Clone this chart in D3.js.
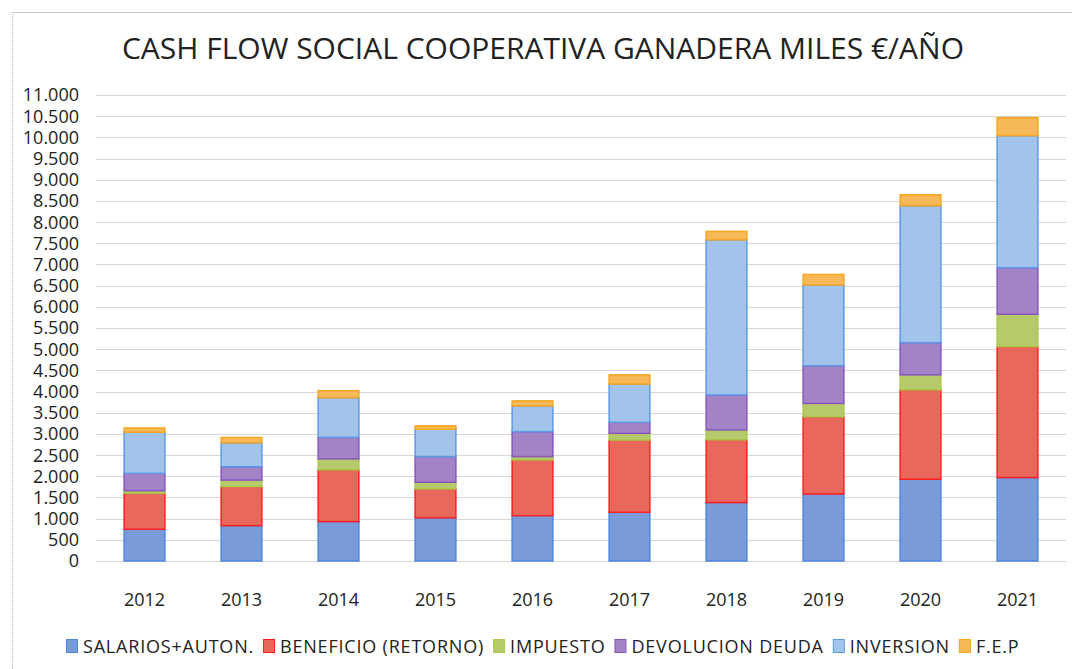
<!DOCTYPE html>
<html>
  <head>
	<meta charset="utf-8">
    <title>Cash flow social</title>
    <script src="https://cdn.jsdelivr.net/npm/d3@7"></script>
  	<style>
		body{ margin:0; background:#fff; }
		svg{ display:block; }
		text{ font-family:"Open Sans", "Noto Sans", sans-serif; fill:#222; }
		.grid line{ stroke:#d6d6d6; stroke-width:1; }
		.grid .domain{ display:none; }
	</style>
  </head>
  <body>
    <div id="diagram"></div>
    <script>
		var years = ["2012","2013","2014","2015","2016","2017","2018","2019","2020","2021"];
		var seriesNames = ["SALARIOS+AUTON.","BENEFICIO (RETORNO)","IMPUESTO","DEVOLUCION DEUDA","INVERSION","F.E.P"];
		var salarios  = [750, 835, 930, 1020, 1070, 1150, 1380, 1580, 1930, 1970];
		var beneficio = [850, 920, 1220, 680, 1315, 1705, 1480, 1825, 2110, 3090];
		var impuesto  = [60, 155, 260, 160, 80, 160, 235, 315, 355, 765];
		var deuda     = [410, 315, 510, 605, 590, 260, 825, 890, 760, 1100];
		var inversion = [970, 565, 935, 645, 605, 900, 3660, 1905, 3230, 3115];
		var fep       = [100, 125, 165, 80, 120, 220, 200, 250, 260, 425];
		var yTicks = d3.range(0, 11001, 500);

		var fills   = ["#7a9bd9","#e9685c","#b6c96b","#a283c6","#a2c4ea","#f7b858"];
		var strokes = ["#4f86e0","#ff2020","#a8c94a","#8a55c0","#5c9ae6","#f5a623"];

		var W = 1072, H = 669;
		var margin = {left: 96, right: 1066, top: 95, bottom: 561};

		var svg = d3.select("#diagram").append("svg")
					.attr("width", W)
					.attr("height", H);

		// scanned frame
		svg.append("line").attr("x1",12).attr("x2",W).attr("y1",12.5).attr("y2",12.5)
			.attr("stroke","#c8c8c8");
		svg.append("line").attr("x1",12.5).attr("x2",12.5).attr("y1",12).attr("y2",H)
			.attr("stroke","#b8b8b8").attr("stroke-dasharray","1,1");

		var rows = years.map(function(y, i){
			return {year:y, s0:salarios[i], s1:beneficio[i], s2:impuesto[i], s3:deuda[i], s4:inversion[i], s5:fep[i]};
		});
		var keys = ["s0","s1","s2","s3","s4","s5"];
		var stacked = d3.stack().keys(keys)(rows);

		var xScale = d3.scaleBand().domain(years).range([margin.left, margin.right]).paddingInner(0.58).paddingOuter(0.29);
		var yScale = d3.scaleLinear().domain([0, 11000]).range([margin.bottom, margin.top]);

		var loc = d3.formatLocale({decimal:",", thousands:".", grouping:[3], currency:["","€"]});
		var fmt = loc.format(",d");

		//grid
		var yAxis = d3.axisLeft(yScale).tickValues(yTicks).tickSize(-(margin.right-margin.left)).tickFormat("");
		svg.append("g").attr("class","grid")
			.attr("transform","translate("+margin.left+",0)")
			.call(yAxis)
			.selectAll(".tick line").attr("shape-rendering","crispEdges");

		//y labels
		svg.append("g").selectAll("text").data(yTicks).enter().append("text")
			.attr("x", 79)
			.attr("y", function(d){ return yScale(d); })
			.attr("dy","0.36em")
			.attr("text-anchor","end")
			.style("font-size","18px")
			.text(function(d){ return fmt(d); });

		//bars
		svg.append("g").selectAll("g").data(stacked).enter().append("g")
			.attr("fill", function(d, i){ return fills[i]; })
			.attr("stroke", function(d, i){ return strokes[i]; })
			.attr("stroke-width", 1.5)
			.selectAll("rect").data(function(d){ return d; }).enter().append("rect")
			.attr("x", function(d){ return xScale(d.data.year); })
			.attr("width", xScale.bandwidth())
			.attr("y", function(d){ return yScale(d[1]); })
			.attr("height", function(d){ return yScale(d[0]) - yScale(d[1]); });

		//x labels
		svg.append("g").selectAll("text").data(years).enter().append("text")
			.attr("x", function(d){ return xScale(d) + xScale.bandwidth()/2; })
			.attr("y", 606)
			.attr("text-anchor","middle")
			.style("font-size","18px")
			.text(function(d){ return d; });

		//title
		svg.append("text").text("CASH FLOW SOCIAL COOPERATIVA GANADERA MILES €/AÑO")
			.attr("x", 543)
			.attr("y", 59)
			.attr("text-anchor","middle")
			.style("font-size","30px");

		//legend
		var legend = svg.append("g").attr("transform","translate(66,653)");
		var lx = 0;
		seriesNames.forEach(function(name, i){
			var g = legend.append("g").attr("transform","translate("+lx+",0)");
			g.append("rect").attr("x",0.5).attr("y",-13.5).attr("width",11).attr("height",13)
				.attr("fill", fills[i]).attr("stroke", strokes[i]);
			var t = g.append("text").attr("x",17).attr("y",0)
				.style("font-size","18px").style("letter-spacing","0.8px").text(name);
			lx += 17 + t.node().getComputedTextLength() + 9;
		});
	</script>
  </body>
</html>
